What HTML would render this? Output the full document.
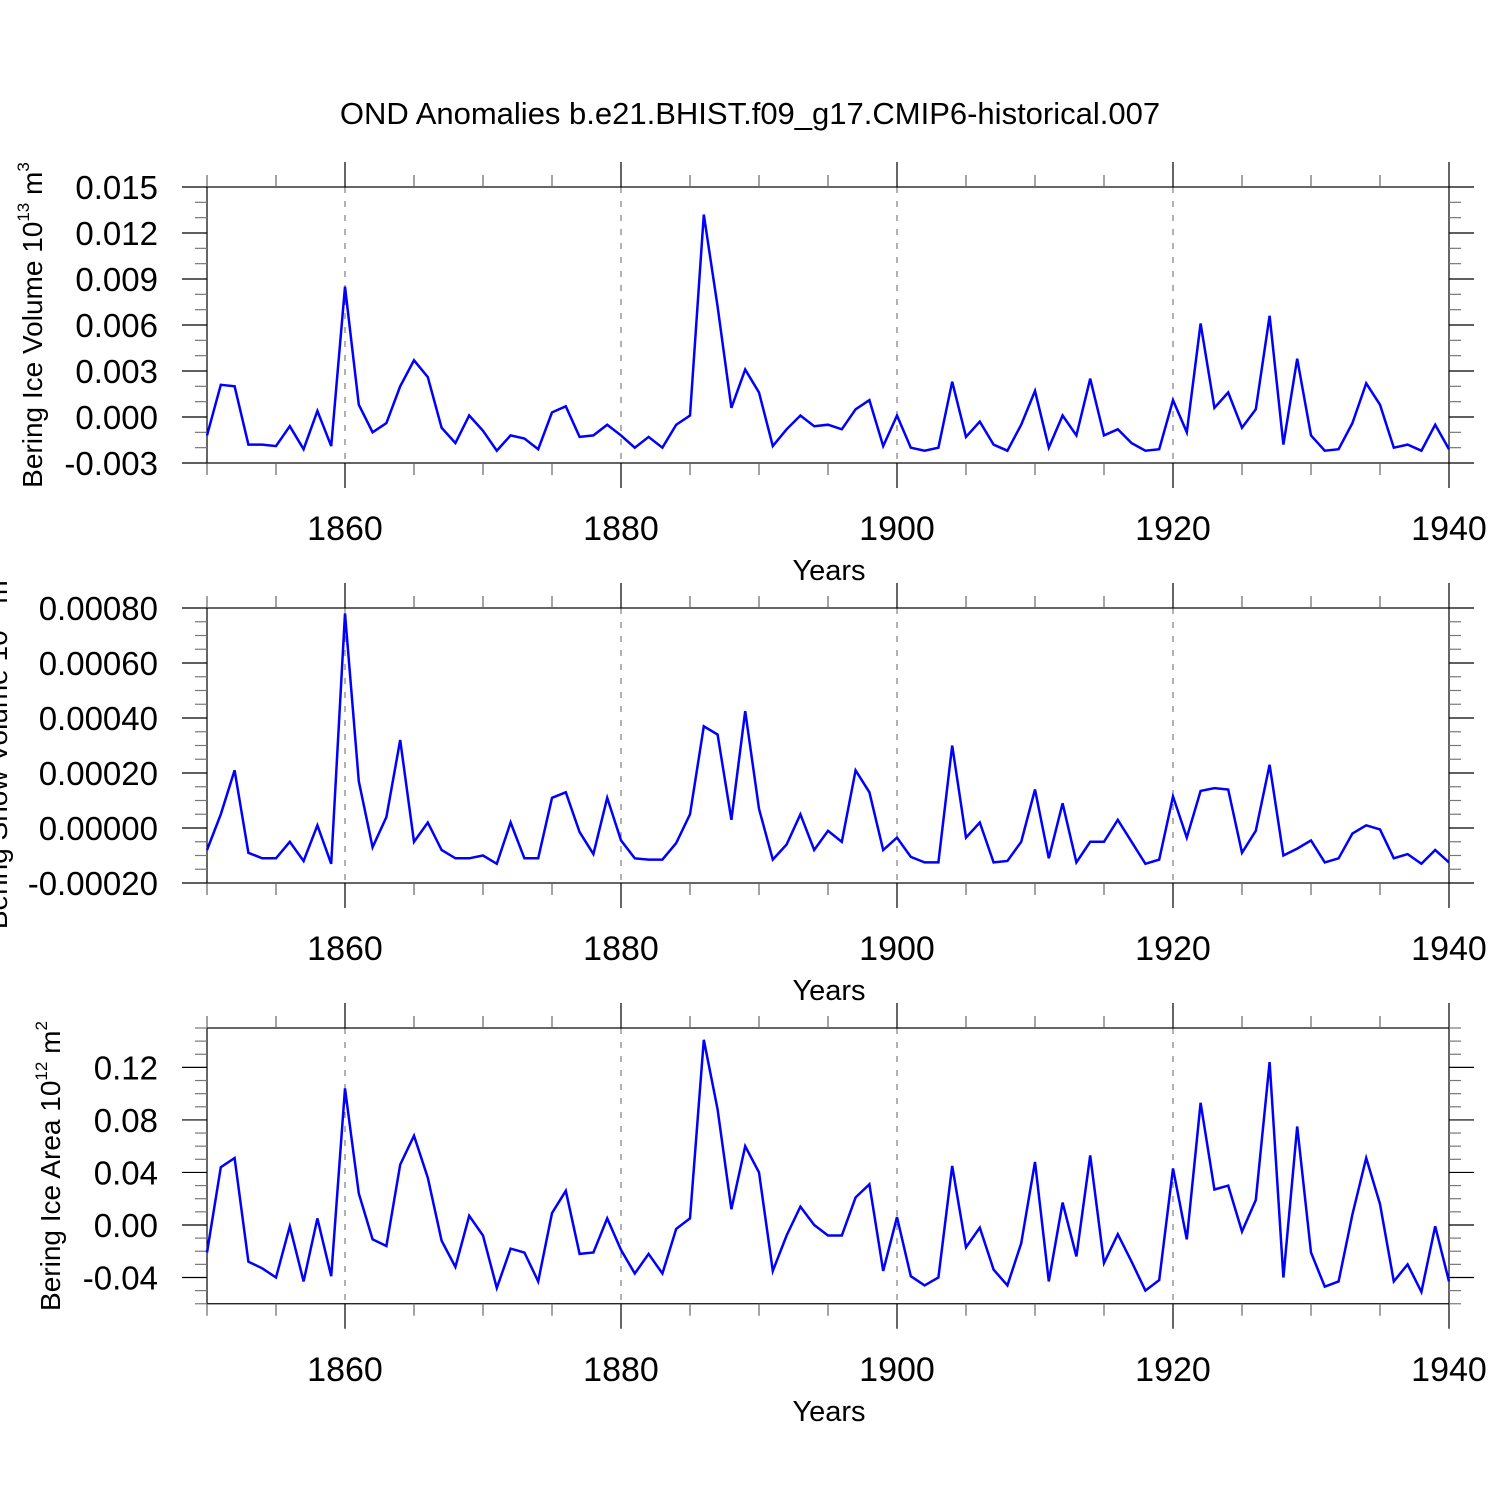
<!DOCTYPE html>
<html><head><meta charset="utf-8"><style>
html,body{margin:0;padding:0;background:#fff;}
svg{display:block;font-family:"Liberation Sans",Arial,sans-serif;}
</style></head><body>
<svg id="c" width="1500" height="1500" viewBox="0 0 1500 1500" xmlns="http://www.w3.org/2000/svg">
<text x="750" y="124" font-size="31" text-anchor="middle">OND Anomalies b.e21.BHIST.f09_g17.CMIP6-historical.007</text>
</svg>
<script>
const years = [];
for (let y = 1850; y <= 1940; y++) years.push(y);
const iceVolume = [-1.2,2.1,2.0,-1.8,-1.8,-1.9,-0.6,-2.1,0.4,-1.9,8.5,0.8,-1.0,-0.4,2.0,3.7,2.6,-0.7,-1.7,0.1,-0.9,-2.2,-1.2,-1.4,-2.1,0.3,0.7,-1.3,-1.2,-0.5,-1.2,-2.0,-1.3,-2.0,-0.5,0.1,13.2,7.2,0.6,3.1,1.6,-1.9,-0.8,0.1,-0.6,-0.5,-0.8,0.5,1.1,-1.9,0.1,-2.0,-2.2,-2.0,2.3,-1.3,-0.3,-1.8,-2.2,-0.5,1.7,-2.0,0.1,-1.2,2.5,-1.2,-0.8,-1.7,-2.2,-2.1,1.1,-1.0,6.1,0.6,1.6,-0.7,0.5,6.6,-1.8,3.8,-1.2,-2.2,-2.1,-0.4,2.2,0.8,-2.0,-1.8,-2.2,-0.5,-2.1].map(v=>v*0.001);
const snowVolume = [-0.8,0.5,2.1,-0.9,-1.1,-1.1,-0.5,-1.2,0.1,-1.3,7.8,1.7,-0.7,0.4,3.2,-0.5,0.2,-0.8,-1.1,-1.1,-1.0,-1.3,0.2,-1.1,-1.1,1.1,1.3,-0.15,-0.95,1.1,-0.45,-1.1,-1.15,-1.15,-0.55,0.5,3.7,3.4,0.3,4.25,0.7,-1.15,-0.6,0.5,-0.8,-0.1,-0.5,2.1,1.3,-0.8,-0.35,-1.05,-1.25,-1.25,3.0,-0.35,0.2,-1.25,-1.2,-0.5,1.4,-1.1,0.9,-1.25,-0.5,-0.5,0.3,-0.5,-1.3,-1.15,1.15,-0.35,1.35,1.45,1.4,-0.9,-0.1,2.3,-1.0,-0.75,-0.45,-1.25,-1.1,-0.2,0.1,-0.05,-1.1,-0.95,-1.3,-0.8,-1.25].map(v=>v*0.0001);
const iceArea = [-2.1,4.4,5.1,-2.8,-3.3,-4.0,-0.1,-4.3,0.5,-3.9,10.4,2.4,-1.1,-1.6,4.6,6.8,3.6,-1.2,-3.2,0.7,-0.8,-4.8,-1.8,-2.1,-4.3,0.9,2.6,-2.2,-2.1,0.5,-1.9,-3.7,-2.2,-3.7,-0.3,0.5,14.1,8.8,1.2,6.0,4.0,-3.5,-0.8,1.4,0,-0.8,-0.8,2.1,3.1,-3.5,0.6,-3.9,-4.6,-4.0,4.5,-1.7,-0.2,-3.4,-4.6,-1.4,4.8,-4.3,1.7,-2.4,5.3,-2.9,-0.7,-2.8,-5.0,-4.2,4.3,-1.1,9.3,2.7,3.0,-0.5,1.9,12.4,-4.0,7.5,-2.1,-4.7,-4.3,0.8,5.1,1.6,-4.3,-3.0,-5.1,-0.1,-4.3].map(v=>v*0.01);
const xTickLabels = ["1860","1880","1900","1920","1940"];
const ticks1 = ["0.015","0.012","0.009","0.006","0.003","0.000","-0.003"];
const ticks2 = ["0.00080","0.00060","0.00040","0.00020","0.00000","-0.00020"];
const ticks3 = ["0.12","0.08","0.04","0.00","-0.04"];

const NS = "http://www.w3.org/2000/svg";
const svg = document.getElementById('c');
const X0 = 207, X1 = 1449, YMIN = 1850, YMAX = 1940;
const xs = v => X0 + (v - YMIN) / (YMAX - YMIN) * (X1 - X0);
function mk(tag, attrs, parent) {
  const e = document.createElementNS(NS, tag);
  for (const k in attrs) e.setAttribute(k, attrs[k]);
  (parent || svg).appendChild(e);
  return e;
}
function panel(p) {
  const g = mk('g', {});
  
  
  const ys = v => p.bottom - (v - p.ymin) / (p.ymax - p.ymin) * (p.bottom - p.top);
  [1860,1880,1900,1920].forEach(yr => {
    const l = mk('line', {x1: xs(yr), x2: xs(yr), y1: p.top, y2: p.bottom, stroke: '#666', 'stroke-width': 1, 'stroke-dasharray': '6,8'}, g);
    
    
  });
  const fr = mk('rect', {x: X0, y: p.top, width: X1 - X0, height: p.bottom - p.top, fill: 'none', stroke: '#000', 'stroke-width': 1.2}, g);
  
  
  for (let yr = 1850; yr <= 1940; yr += 5) {
    const major = yr % 20 === 0;
    const len = major ? 25 : 12;
    const x = xs(yr);
    mk('line', {x1: x, x2: x, y1: p.top, y2: p.top - len, stroke: major ? '#000' : '#666', 'stroke-width': 1.2}, g);
    mk('line', {x1: x, x2: x, y1: p.bottom, y2: p.bottom + len, stroke: major ? '#000' : '#666', 'stroke-width': 1.2}, g);
  }
  xTickLabels.forEach(t => {
    const tx = mk('text', {x: xs(+t), y: p.bottom + 77, 'font-size': 34, 'text-anchor': 'middle'}, g);
    tx.textContent = t;
    
    
  });
  const yt = mk('text', {x: 829, y: p.bottom + 117, 'font-size': 29, 'text-anchor': 'middle'}, g);
  yt.textContent = 'Years';
  
  
  const n = Math.round((p.ymax - p.ymin) / p.minor);
  for (let i = 0; i <= n; i++) {
    const v = p.ymin + i * p.minor;
    const r = v / p.major;
    const major = Math.abs(r - Math.round(r)) < 1e-6;
    const len = major ? 25 : 12;
    const y = ys(v);
    mk('line', {x1: X0, x2: X0 - len, y1: y, y2: y, stroke: major ? '#000' : '#777', 'stroke-width': 1.2}, g);
    mk('line', {x1: X1, x2: X1 + len, y1: y, y2: y, stroke: major ? '#000' : '#777', 'stroke-width': 1.2}, g);
  }
  p.labels.forEach(t => {
    const tx = mk('text', {x: 158, y: ys(parseFloat(t)) + 12, 'font-size': 33, 'text-anchor': 'end'}, g);
    tx.textContent = t;
    
    
  });
  const tt = mk('text', {x: 0, y: 0, 'font-size': 28, 'text-anchor': 'middle', transform: `translate(${p.tx},${p.ty}) rotate(-90)`}, g);
  tt.innerHTML = p.title;
  
  
  const pts = years.map((yr, i) => xs(yr).toFixed(1) + ',' + ys(p.data[i]).toFixed(1)).join(' ');
  const pl = mk('polyline', {points: pts, fill: 'none', stroke: '#0000ff', 'stroke-width': 2.5, 'stroke-linejoin': 'miter'}, g);
  
  
}
panel({name:'ice-volume-panel', top:187, bottom:463, ymin:-0.003, ymax:0.015, major:0.003, minor:0.001, labels:ticks1, data:iceVolume,
  tx:42, ty:325, title:'Bering Ice Volume 10<tspan dy="-13" font-size="17">13</tspan><tspan dy="13"> m</tspan><tspan dy="-13" font-size="17">3</tspan>'});
panel({name:'snow-volume-panel', top:608, bottom:883, ymin:-0.0002, ymax:0.0008, major:0.0002, minor:0.00005, labels:ticks2, data:snowVolume,
  tx:7, ty:750, title:'Bering Snow Volume 10<tspan dy="-13" font-size="17">13</tspan><tspan dy="13"> m</tspan><tspan dy="-13" font-size="17">3</tspan>'});
panel({name:'ice-area-panel', top:1028, bottom:1303.75, ymin:-0.06, ymax:0.15, major:0.04, minor:0.01, labels:ticks3, data:iceArea,
  tx:60, ty:1166, title:'Bering Ice Area 10<tspan dy="-13" font-size="17">12</tspan><tspan dy="13"> m</tspan><tspan dy="-13" font-size="17">2</tspan>'});
</script>
</body></html>
